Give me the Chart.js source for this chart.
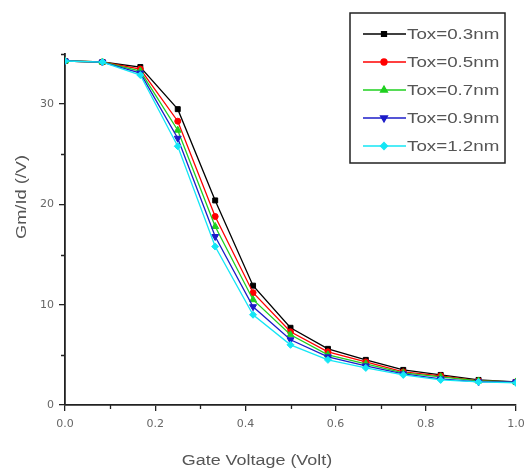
<!DOCTYPE html>
<html>
<head>
<meta charset="utf-8">
<script src="https://cdn.jsdelivr.net/npm/chart.js@4/dist/chart.umd.min.js"></script>
<style>
  html, body { margin: 0; padding: 0; background: #fff; }
  #wrap { width: 525px; height: 473px; }
</style>
</head>
<body>
<div id="wrap"><canvas id="myChart"></canvas></div>
<script>
// gate voltage (V)
const gateVoltage = [0, 0.083, 0.167, 0.25, 0.333, 0.417, 0.5, 0.583, 0.667, 0.75, 0.833, 0.917, 1.0];

// Gm/Id (/V) for each oxide thickness
const tox03 = [34.3, 34.2, 33.7, 29.5, 20.4, 11.9, 7.7, 5.6, 4.5, 3.5, 3.0, 2.5, 2.3];
const tox05 = [34.3, 34.2, 33.5, 28.3, 18.8, 11.2, 7.3, 5.3, 4.3, 3.3, 2.9, 2.4, 2.3];
const tox07 = [34.3, 34.2, 33.3, 27.4, 17.8, 10.5, 7.0, 5.0, 4.1, 3.2, 2.8, 2.4, 2.3];
const tox09 = [34.3, 34.2, 33.1, 26.6, 16.8, 9.8, 6.5, 4.8, 3.9, 3.1, 2.6, 2.3, 2.3];
const tox12 = [34.3, 34.2, 32.9, 25.8, 15.8, 9.0, 6.0, 4.5, 3.7, 3.0, 2.5, 2.3, 2.2];

const seriesLabels = ['Tox=0.3nm', 'Tox=0.5nm', 'Tox=0.7nm', 'Tox=0.9nm', 'Tox=1.2nm'];
const seriesValues = [tox03, tox05, tox07, tox09, tox12];

const xTicks = [0, 0.2, 0.4, 0.6, 0.8, 1.0];
const xMinor = [0.1, 0.3, 0.5, 0.7, 0.9];
const yTicks = [0, 10, 20, 30];
const yMinor = [5, 15, 25, 35];

const xTitle = 'Gate Voltage (Volt)';
const yTitle = 'Gm/Id (/V)';

const COLORS = ['#000000', '#ff0000', '#1fd01f', '#1c1cc8', '#14e6f5'];
const MARKERS = ['rect', 'circle', 'triangle', 'triangle', 'rectRot'];
const ROTATE = [0, 0, 0, 180, 0];
const SIZES = [3.5, 3, 4, 4, 3.5];

const TEXT_COLOR = '#555';
const AXIS_COLOR = '#222';

function pts(vals) {
  return vals.map((v, i) => ({ x: gateVoltage[i], y: v }));
}

const datasets = seriesValues.map((vals, i) => ({
  label: seriesLabels[i],
  data: pts(vals),
  borderColor: COLORS[i],
  backgroundColor: COLORS[i],
  borderWidth: 1.3,
  pointStyle: MARKERS[i],
  pointRotation: ROTATE[i],
  pointRadius: SIZES[i],
  pointBorderWidth: 1,
  tension: 0,
  order: 4 - i
}));

// text in the original is a bit wide, so draw it stretched
function wideText(ctx, text, x, y, sx, rot) {
  ctx.save();
  ctx.translate(x, y);
  if (rot) ctx.rotate(rot);
  ctx.scale(sx, 1);
  ctx.fillText(text, 0, 0);
  ctx.restore();
}

// minor ticks, shorter than the labelled ones
const minorTicks = {
  id: 'minorTicks',
  afterDraw(chart) {
    const ctx = chart.ctx;
    const xs = chart.scales.x, ys = chart.scales.y;
    ctx.save();
    ctx.strokeStyle = AXIS_COLOR;
    ctx.lineWidth = 1.3;
    ctx.beginPath();
    xMinor.forEach(v => {
      const px = Math.round(xs.getPixelForValue(v)) + 0.5;
      ctx.moveTo(px, xs.top);
      ctx.lineTo(px, xs.top + 4);
    });
    yMinor.forEach(v => {
      const py = Math.round(ys.getPixelForValue(v)) + 0.5;
      ctx.moveTo(ys.right, py);
      ctx.lineTo(ys.right - 4, py);
    });
    ctx.stroke();
    ctx.restore();
  }
};

// legend box like the Origin one, plus the axis titles
const boxLegend = {
  id: 'boxLegend',
  afterDraw(chart) {
    const ctx = chart.ctx;
    ctx.save();
    ctx.strokeStyle = '#222';
    ctx.lineWidth = 1.5;
    ctx.strokeRect(350, 13, 155, 150);
    ctx.font = '14px "Liberation Sans", Arial, sans-serif';
    ctx.textBaseline = 'middle';
    ctx.textAlign = 'left';
    chart.data.datasets.forEach((ds, i) => {
      const y = 34 + i * 28;
      ctx.strokeStyle = ds.borderColor;
      ctx.fillStyle = ds.backgroundColor;
      ctx.lineWidth = 1.3;
      ctx.beginPath();
      ctx.moveTo(363, y);
      ctx.lineTo(406, y);
      ctx.stroke();
      Chart.helpers.drawPoint(ctx, {
        pointStyle: ds.pointStyle,
        rotation: ds.pointRotation,
        radius: ds.pointRadius,
        borderWidth: 1
      }, 384, y);
      ctx.fillStyle = TEXT_COLOR;
      wideText(ctx, ds.label, 407, y + 1, 1.34, 0);
    });

    ctx.textAlign = 'center';
    ctx.fillStyle = TEXT_COLOR;
    wideText(ctx, xTitle, 257, 461, 1.28, 0);
    wideText(ctx, yTitle, 22, 197, 1.3, -Math.PI / 2);
    ctx.restore();
  }
};

const conf = {
  type: 'line',
  data: { datasets: datasets },
  options: {
    responsive: true,
    maintainAspectRatio: false,
    animation: false,
    layout: { padding: { left: 0, right: 9, top: 54, bottom: 0 } },
    plugins: {
      legend: { display: false },
      tooltip: { enabled: false }
    },
    scales: {
      x: {
        type: 'linear',
        min: 0,
        max: 1,
        afterBuildTicks: (scale) => {
          scale.ticks = xTicks.map(v => ({ value: v }));
        },
        afterFit: (scale) => {
          scale.height = 68;
          scale.paddingRight = 0;
          scale.paddingLeft = 0;
        },
        grid: { drawOnChartArea: false, drawTicks: true, tickLength: 6, color: AXIS_COLOR, lineWidth: 1.3 },
        border: { display: true, color: AXIS_COLOR, width: 1.8 },
        ticks: {
          color: '#666',
          font: { size: 11, family: 'DejaVu Sans' },
          maxRotation: 0,
          autoSkip: false,
          padding: 7,
          callback: (v) => v.toFixed(1)
        }
      },
      y: {
        min: 0,
        max: 35,
        afterBuildTicks: (scale) => {
          scale.ticks = yTicks.map(v => ({ value: v }));
        },
        afterFit: (scale) => { scale.width = 65; },
        grid: { drawOnChartArea: false, drawTicks: true, tickLength: 6, color: AXIS_COLOR, lineWidth: 1.3 },
        border: { display: true, color: AXIS_COLOR, width: 1.8 },
        ticks: {
          color: '#666',
          font: { size: 11, family: 'DejaVu Sans' },
          padding: 5,
          callback: (v) => String(v)
        }
      }
    }
  },
  plugins: [minorTicks, boxLegend]
};

const myChart = new Chart(document.getElementById('myChart'), conf);
</script>
</body>
</html>
